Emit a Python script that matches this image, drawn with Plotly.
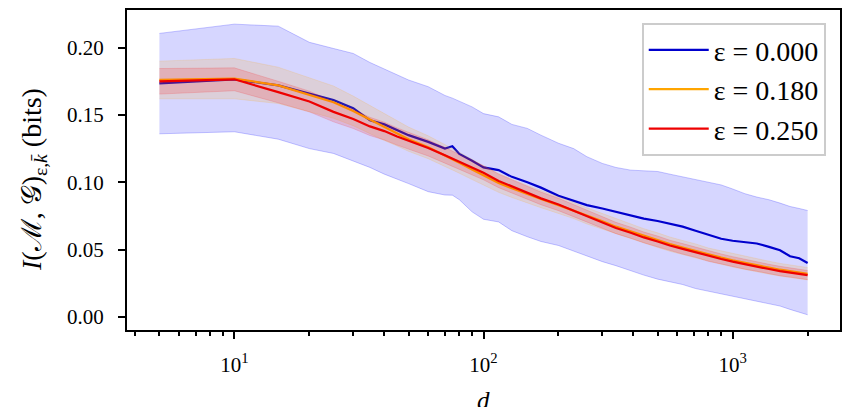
import plotly.graph_objects as go

d = [5, 10, 15, 20, 25, 30, 35, 40, 45, 50, 60, 70, 75, 80, 90, 100, 115, 130, 150, 170,
     200, 230, 260, 300, 340, 390, 440, 500, 560, 630, 710, 800, 900, 1000, 1120, 1250,
     1400, 1550, 1700, 1850, 2000]

blue_mean = [0.1734, 0.1765, 0.172, 0.166, 0.161, 0.155, 0.146, 0.143, 0.139, 0.135, 0.130,
             0.125, 0.1268, 0.121, 0.116, 0.111, 0.109, 0.104, 0.100, 0.096, 0.090, 0.086,
             0.083, 0.0805, 0.078, 0.0755, 0.073, 0.0712, 0.069, 0.067, 0.064, 0.061, 0.058,
             0.0565, 0.0557, 0.0545, 0.052, 0.0495, 0.045, 0.0435, 0.040]
blue_upper = [0.2106, 0.2175, 0.216, 0.204, 0.1994, 0.1957, 0.189, 0.184, 0.180, 0.176, 0.171,
              0.1645, 0.1625, 0.160, 0.156, 0.151, 0.1486, 0.143, 0.140, 0.135, 0.129, 0.125,
              0.119, 0.114, 0.111, 0.109, 0.1085, 0.108, 0.106, 0.104, 0.1025, 0.100, 0.098,
              0.095, 0.0915, 0.089, 0.087, 0.0845, 0.082, 0.0805, 0.079]
blue_lower = [0.136, 0.1375, 0.132, 0.125, 0.1214, 0.116, 0.111, 0.106, 0.102, 0.099, 0.093,
              0.0905, 0.0904, 0.087, 0.078, 0.0725, 0.0705, 0.064, 0.0595, 0.056, 0.053, 0.049,
              0.045, 0.041, 0.038, 0.034, 0.031, 0.028, 0.026, 0.024, 0.021, 0.019, 0.017,
              0.0155, 0.0135, 0.0115, 0.0095, 0.008, 0.0055, 0.0035, 0.0015]

orange_mean = [0.176, 0.177, 0.172, 0.165, 0.1595, 0.153, 0.1465, 0.141, 0.1365, 0.132, 0.126,
               0.120, 0.1175, 0.1145, 0.1095, 0.105, 0.0995, 0.0955, 0.091, 0.0875, 0.083, 0.079,
               0.075, 0.071, 0.067, 0.0635, 0.060, 0.057, 0.054, 0.0515, 0.049, 0.046, 0.044,
               0.042, 0.040, 0.0385, 0.0365, 0.035, 0.034, 0.033, 0.032]
orange_hw = [0.014, 0.015, 0.0135, 0.0125, 0.012, 0.011, 0.0105, 0.010, 0.0095, 0.009, 0.0085,
             0.008, 0.008, 0.0078, 0.0075, 0.0072, 0.007, 0.0068, 0.0066, 0.0064, 0.0062, 0.006,
             0.006, 0.0058, 0.0057, 0.0056, 0.0055, 0.0054, 0.0053, 0.0052, 0.0052, 0.0051, 0.005,
             0.005, 0.0049, 0.0048, 0.0048, 0.0047, 0.0047, 0.0046, 0.0046]

red_mean = [0.175, 0.1765, 0.167, 0.160, 0.1523, 0.147, 0.1415, 0.138, 0.134, 0.131, 0.1255,
            0.120, 0.1175, 0.115, 0.111, 0.107, 0.101, 0.097, 0.0925, 0.088, 0.0835, 0.079,
            0.0745, 0.070, 0.066, 0.0625, 0.059, 0.056, 0.053, 0.0505, 0.048, 0.045, 0.043,
            0.041, 0.039, 0.0375, 0.0355, 0.034, 0.033, 0.032, 0.031]
red_hw = [0.0095, 0.0085, 0.008, 0.0077, 0.0074, 0.0071, 0.0068, 0.0066, 0.0064, 0.0062, 0.006,
          0.0058, 0.0057, 0.0056, 0.0054, 0.0052, 0.005, 0.0049, 0.0048, 0.0047, 0.0046, 0.0045,
          0.0044, 0.0043, 0.0042, 0.0041, 0.004, 0.004, 0.0039, 0.0039, 0.0038, 0.0038, 0.0037,
          0.0037, 0.0036, 0.0036, 0.0035, 0.0035, 0.0035, 0.0034, 0.0034]

labels = ["ε = 0.000", "ε = 0.180", "ε = 0.250"]
x_tickvals = [10, 100, 1000]
x_ticktext = ["10<sup>1</sup>", "10<sup>2</sup>", "10<sup>3</sup>"]
x_minor = [4, 5, 6, 7, 8, 9, 20, 30, 40, 50, 60, 70, 80, 90,
           200, 300, 400, 500, 600, 700, 800, 900, 2000]
y_tickvals = [0.00, 0.05, 0.10, 0.15, 0.20]

FONT = "Liberation Serif"
fig = go.Figure()


def band(lo, hi, rgb, fa, la, group):
    fig.add_trace(go.Scatter(x=d, y=lo, mode="lines", line=dict(color=f"rgba({rgb},{la})", width=1),
                             showlegend=False, hoverinfo="skip", legendgroup=group))
    fig.add_trace(go.Scatter(x=d, y=hi, mode="lines", line=dict(color=f"rgba({rgb},{la})", width=1),
                             fill="tonexty", fillcolor=f"rgba({rgb},{fa})",
                             showlegend=False, hoverinfo="skip", legendgroup=group))


# blue
band(blue_lower, blue_upper, "0,0,255", 0.16, 0.22, "a")
fig.add_trace(go.Scatter(x=d, y=blue_mean, mode="lines", name=labels[0], legendgroup="a",
                         line=dict(color="#0000cd", width=2.2)))
# orange
o_lo = [m - h for m, h in zip(orange_mean, orange_hw)]
o_hi = [m + h for m, h in zip(orange_mean, orange_hw)]
band(o_lo, o_hi, "255,165,0", 0.15, 0.15, "b")
fig.add_trace(go.Scatter(x=d, y=orange_mean, mode="lines", name=labels[1], legendgroup="b",
                         line=dict(color="#ffa500", width=2.2)))
# red
r_lo = [m - h for m, h in zip(red_mean, red_hw)]
r_hi = [m + h for m, h in zip(red_mean, red_hw)]
band(r_lo, r_hi, "255,0,0", 0.15, 0.15, "c")
fig.add_trace(go.Scatter(x=d, y=red_mean, mode="lines", name=labels[2], legendgroup="c",
                         line=dict(color="#ee0000", width=2.2)))

fig.update_layout(
    width=844, height=407,
    margin=dict(l=127, r=2, t=10, b=77),
    paper_bgcolor="white", plot_bgcolor="white",
    font=dict(family=FONT, color="black", size=21),
    legend=dict(x=0.98, y=0.959, xanchor="right", yanchor="top",
                bordercolor="#cccccc", borderwidth=2, bgcolor="rgba(255,255,255,0.8)",
                font=dict(family=FONT, size=28), tracegroupgap=0,
                itemwidth=60),
    xaxis=dict(type="log", range=[0.569, 3.431], showgrid=False, zeroline=False,
               showline=True, linecolor="black", linewidth=2, mirror=True,
               ticks="outside", ticklen=7, tickwidth=2, tickcolor="black",
               ticklabelstandoff=8,
               tickvals=x_tickvals, ticktext=x_ticktext, tickfont=dict(size=21),
               minor=dict(tickvals=x_minor, ticks="outside", ticklen=4, tickwidth=1.5,
                          tickcolor="black", showgrid=False)),
    yaxis=dict(range=[-0.0098, 0.228], showgrid=False, zeroline=False,
               showline=True, linecolor="black", linewidth=2, mirror=True,
               ticks="outside", ticklen=7, tickwidth=2, tickcolor="black",
               ticklabelstandoff=10,
               tickvals=y_tickvals, tickformat=".2f", tickfont=dict(size=21)),
    annotations=[
        dict(text="<i>d</i>", x=0.5, y=0, xref="paper", yref="paper", xanchor="center",
             yanchor="middle", yshift=-70, showarrow=False, font=dict(size=25, family=FONT)),
        dict(text="<i>I</i>(ℳ, 𝒢)<sub>ε,<i>k̄</i></sub> (bits)", x=0, y=0.5, xref="paper",
             yref="paper", xanchor="center", yanchor="middle", xshift=-94, yshift=-10,
             textangle=-90, showarrow=False, font=dict(size=28, family=FONT)),
    ],
)

fig.write_html("out.html")
